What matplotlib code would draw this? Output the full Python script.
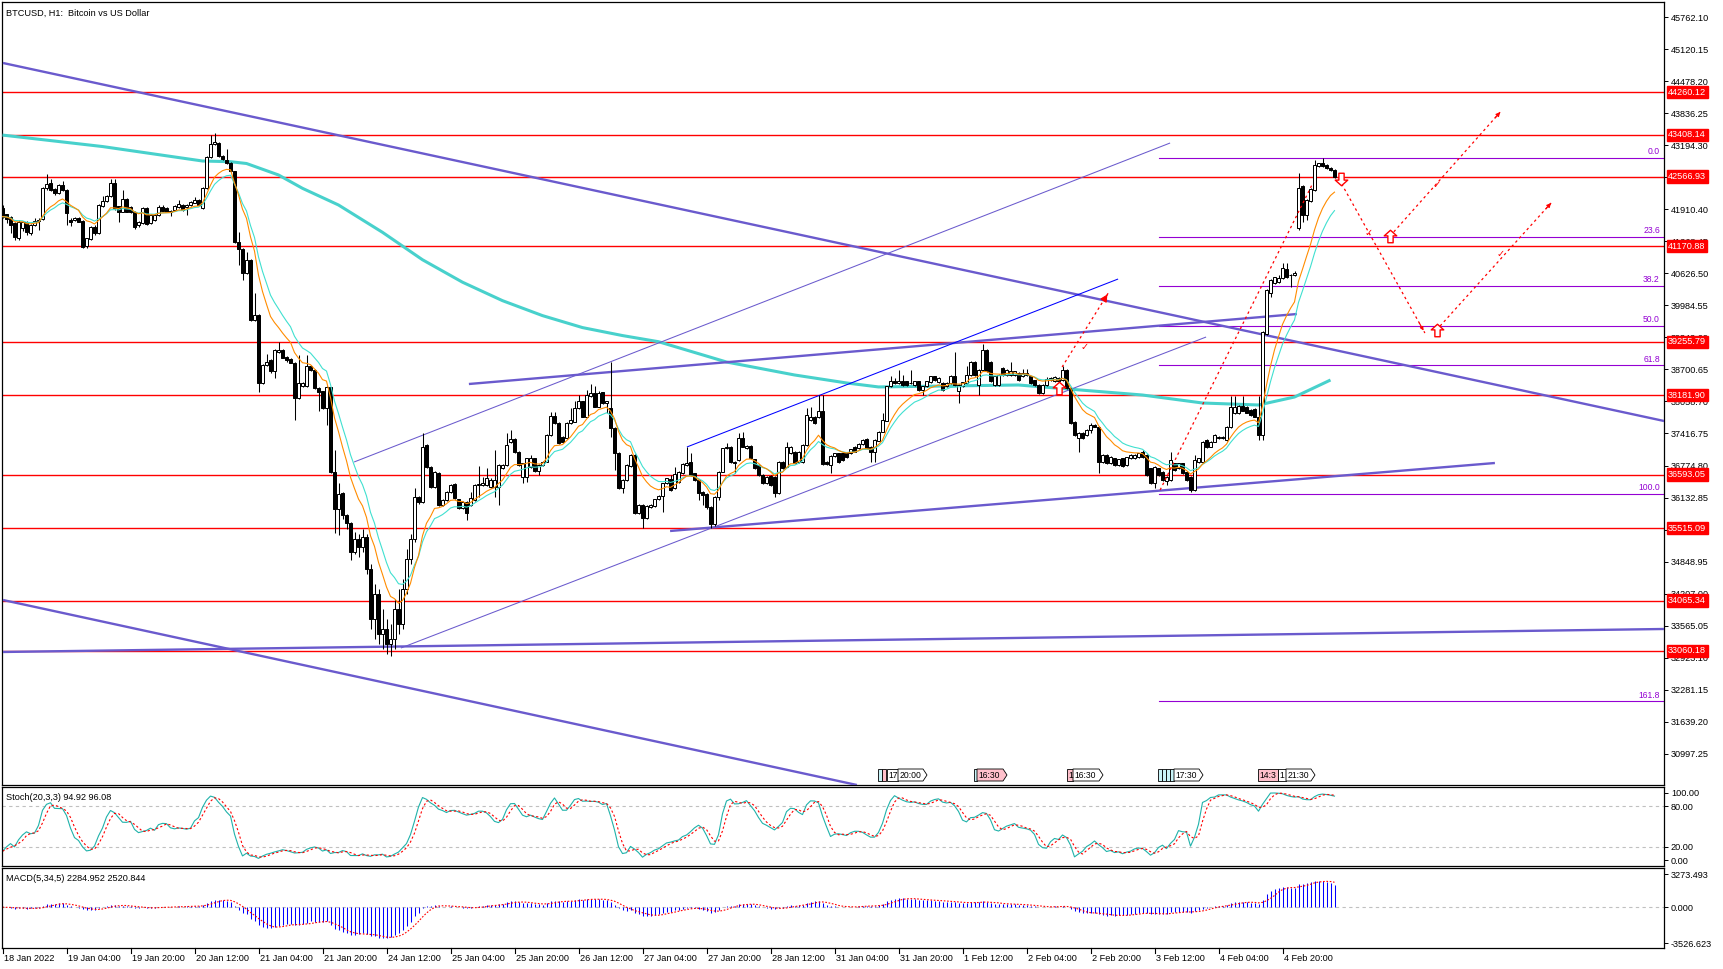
import matplotlib
matplotlib.use('Agg')
import matplotlib.pyplot as plt
import matplotlib.transforms as mtransforms
from matplotlib.patches import Polygon
from matplotlib.path import Path
import numpy as np
import pandas as pd

plt.rcParams['font.family'] = ['Liberation Sans', 'DejaVu Sans']

# ---------------- DATA ----------------
open_ = [41930,41810,41765,41630,41330,41530,41660,41430,41600,41680,
 41710,42330,42430,42320,42230,42390,42300,41700,41700,41740,
 41680,41180,41320,41560,41430,41970,42070,42170,42430,41970,
 41860,42120,41965,41860,41600,41630,41930,41630,41700,41800,
 41950,41930,41880,41900,41950,42000,41965,42000,42045,42100,
 41930,42330,42970,43230,43250,42980,42900,42850,42670,41260,
 41110,40630,40900,39690,39790,38420,38790,38890,38660,39060,
 39100,38960,38920,38840,38120,38360,38360,38770,38690,38320,
 38260,37920,38340,36650,35900,36220,35780,35630,35050,35300,
 35150,35350,34700,33700,34200,33400,33500,33200,33300,33900,
 33600,34300,34900,35300,36150,36050,37190,36750,36350,36630,
 35980,36080,36250,36400,36100,35920,36050,35980,36080,36380,
 36380,36380,36350,36350,36350,36720,36790,37250,37300,37050,
 36550,36550,36750,36920,36670,36790,36850,37390,37770,37620,
 37350,37320,37620,37650,37920,38060,37750,38160,38220,37950,
 38240,38020,37920,37520,37020,36320,36480,36770,36990,35820,
 35980,35720,35950,35960,36100,36160,36420,36500,36320,36450,
 36620,36790,36850,36620,36480,36250,36200,35950,35600,36150,
 36650,37120,37140,36850,36880,37320,37120,37170,36900,36790,
 36580,36420,36560,36550,36220,36850,36750,37020,37050,36850,
 36850,37190,37690,37750,37740,37870,36850,36790,36970,37020,
 37020,37020,37020,37150,37120,37210,37300,37150,37050,37270,
 37450,37670,38360,38460,38420,38460,38460,38420,38390,38460,
 38290,38360,38440,38560,38440,38420,38360,38420,38570,38260,
 38360,38420,38590,38860,38390,38690,39090,38860,38390,38390,
 38720,38590,38590,38590,38620,38560,38590,38560,38480,38390,
 38220,38390,38490,38460,38520,38490,38690,38320,37650,37320,
 37420,37390,37490,37590,37550,36850,36990,36830,36920,36790,
 36920,36790,36920,36920,36950,37050,36990,36720,36420,36720,
 36650,36470,36480,36820,36720,36820,36650,36550,36280,36850,
 36850,37290,37150,37250,37320,37320,37290,37540,37820,37820,
 37970,37950,37890,37900,37750,37390,39420,40230,40430,40460,
 40530,40710,40590,40590,41530,42370,41800,42070,42300,42780,
 42850,42800,42730,42700]
high = [42000,41820,41780,41650,41700,41680,41680,41610,41730,41740,
 42350,42620,42510,42330,42410,42470,42310,41740,41760,41760,
 41690,41340,41580,41600,42010,42170,42200,42510,42510,41980,
 42300,42130,41980,41880,41680,41950,41950,41810,41810,41990,
 41990,41950,41900,42000,42100,42010,42010,42080,42165,42110,
 42350,42990,43400,43435,43270,43000,43130,42860,42680,41460,
 41130,41060,40910,40230,39810,38800,39020,38910,39110,39260,
 39120,38970,38940,38850,38990,38440,38990,38790,38700,38340,
 38270,38360,38350,37090,36420,36240,35800,35650,35450,35400,
 35500,35400,34800,34400,34300,33900,33700,33600,34100,34300,
 34500,35100,35400,36320,36170,37420,37200,36770,36670,36650,
 36100,36270,36400,36420,36110,36070,36070,36250,36400,36770,
 36550,36720,36530,37090,36800,36800,37420,37490,37320,37070,
 36830,36930,36990,36930,36800,36870,37400,37850,37850,37640,
 37370,37640,37920,38060,38190,38070,38290,38410,38360,38260,
 38250,38070,38860,37540,37040,36500,36800,37000,37000,36000,
 36000,35980,36000,36110,36180,36430,36530,36590,36750,36670,
 36820,37150,37020,36630,36500,36260,36220,35970,36170,36670,
 37130,37220,37160,36870,37420,37450,37180,37180,36910,36800,
 36600,36570,36580,36570,36870,36870,37250,37170,37070,37070,
 37200,37920,37950,37770,38190,38190,36870,36980,37030,37030,
 37030,37030,37110,37170,37220,37300,37320,37170,37300,37470,
 37830,38370,38560,38520,38690,38590,38470,38690,38470,38470,
 38370,38470,38570,38570,38540,38440,38440,38580,39060,38400,
 38450,38760,38870,38870,38700,39220,39110,38870,38570,38600,
 38740,38700,38860,38670,38640,38700,38700,38570,38490,38400,
 38400,38540,38540,38560,38540,38760,38710,38340,37670,37440,
 37440,37500,37620,37600,37570,37000,37000,36970,36930,36910,
 36930,36950,37000,37000,37030,37090,37000,36730,36770,36730,
 36670,36570,37050,36830,36830,36830,36670,36570,36990,36930,
 37270,37300,37270,37400,37370,37370,37560,38160,38160,37990,
 38170,37970,37900,37920,38160,39480,40310,40510,40560,40590,
 40830,40830,40620,40680,42630,42400,42110,42330,42900,42850,
 42950,42820,42750,42720]
low = [41730,41630,41430,41300,41300,41480,41400,41400,41580,41500,
 41700,42300,42280,42200,42220,42270,41600,41580,41680,41650,
 41140,41130,41300,41400,41420,41950,42050,42150,41900,41660,
 41850,41850,41830,41520,41560,41610,41600,41620,41680,41780,
 41870,41850,41780,41880,41940,41880,41800,41980,42030,41980,
 41910,42310,42950,43210,42960,42910,42810,42650,41240,40800,
 40490,40610,39670,39670,38250,38400,38770,38630,38520,39040,
 38930,38860,38820,37690,38100,38340,38340,38660,38300,37860,
 37900,37590,36630,35420,35380,35700,35500,34880,35000,34950,
 35050,34600,33500,33300,33200,33100,33000,32950,33100,33400,
 33500,34200,34800,35250,36000,36030,36730,36330,36330,35960,
 35960,36060,36230,36100,35900,35900,35680,35970,36070,36150,
 36370,36370,36330,36150,35980,36700,36770,37230,37030,36770,
 36420,36450,36730,36650,36580,36770,36840,37370,37600,37200,
 37230,37300,37600,37640,37900,37740,37740,38140,37940,37940,
 38000,37820,37350,36690,36300,36220,36470,36750,35800,35800,
 35520,35700,35930,35950,36080,35840,36400,36270,36300,36430,
 36600,36770,36570,36470,36080,35980,35900,35520,35560,36080,
 36640,37100,36830,36620,36870,37140,37100,36900,36700,36570,
 36400,36400,36370,36150,36200,36700,36740,37000,36800,36830,
 36830,37170,37670,37600,37720,36790,36790,36620,36950,36830,
 36870,36920,37000,37040,37100,37190,37100,36850,36850,37260,
 37440,37660,38340,38400,38410,38370,38370,38400,38370,38270,
 38190,38340,38420,38470,38420,38270,38340,38400,38370,38020,
 38340,38400,38570,38570,38190,38670,38640,38440,38370,38370,
 38570,38570,38570,38570,38470,38540,38570,38400,38370,38200,
 38200,38370,38470,38440,38320,38470,38300,37600,37370,37050,
 37300,37370,37420,37540,36620,36830,36810,36810,36770,36770,
 36750,36770,36900,36900,36930,36930,36570,36400,36320,36570,
 36470,36380,36470,36670,36700,36600,36470,36250,36270,36830,
 36830,37130,37140,37240,37300,37300,37270,37520,37800,37800,
 37860,37820,37770,37740,37290,37290,39400,40160,40410,40440,
 40510,40530,40360,40580,41500,41660,41700,42050,42280,42760,
 42760,42720,42680,42540]
close = [41765,41720,41600,41360,41660,41660,41460,41600,41680,41700,
 42330,42410,42300,42230,42400,42290,41830,41660,41730,41660,
 41160,41330,41560,41430,42000,42080,42170,42430,41930,41860,
 42110,41860,41864,41550,41660,41930,41620,41800,41800,41965,
 41880,41860,41860,41980,42020,41900,42000,42065,42100,42000,
 42330,42970,43230,43270,42980,42930,42830,42670,41260,41110,
 40630,40900,39690,39790,38420,38790,38860,38660,39090,39100,
 38940,38890,38840,38120,38420,38420,38770,38680,38320,38240,
 37920,38340,36650,35900,36200,35780,35620,35050,35300,35150,
 35350,34700,33700,34200,33400,33500,33200,33300,33900,33600,
 34300,34900,35300,36150,36050,37150,36750,36350,36650,35980,
 36080,36250,36380,36120,35920,36050,35820,36120,36380,36400,
 36420,36520,36480,36480,36790,36790,37190,37300,37050,36790,
 36820,36920,36920,36670,36790,36850,37390,37770,37620,37220,
 37250,37620,37690,37920,38060,37750,38190,38220,37950,38220,
 38020,38060,37520,37020,36320,36480,36790,36990,35820,35980,
 35720,35960,35980,36100,36160,36420,36520,36280,36600,36650,
 36800,36830,36590,36480,36220,36180,35950,35600,36150,36650,
 37120,37140,36850,36820,37320,37150,37170,36920,36720,36580,
 36420,36550,36380,36220,36850,36720,37150,37150,36820,37050,
 37190,37790,37750,37620,37870,36810,36810,36970,37020,36850,
 36890,36940,37100,37050,37210,37290,37120,37050,37290,37450,
 37690,38360,38460,38420,38460,38390,38390,38430,38460,38290,
 38360,38460,38560,38490,38520,38290,38420,38570,38390,38390,
 38440,38590,38860,38590,38690,39090,38660,38460,38560,38590,
 38590,38690,38660,38660,38490,38620,38620,38420,38390,38220,
 38390,38500,38520,38540,38460,38690,38320,37620,37390,37420,
 37320,37490,37590,37550,36850,36990,36830,36950,36790,36900,
 36770,36940,36990,36990,37020,36950,36590,36420,36750,36590,
 36480,36550,36890,36690,36820,36620,36480,36280,36890,36920,
 37250,37150,37250,37390,37350,37350,37540,37950,37950,37970,
 37870,37830,37790,37750,37390,39460,40290,40490,40550,40530,
 40730,40550,40600,40630,42330,41800,42100,42310,42800,42830,
 42780,42730,42700,42560]

# long moving average (bar index, price)
ma_long_bar = [0, 25, 50, 57, 61, 69, 75, 84, 95, 105, 115, 125, 135, 145, 155, 164,
               181, 198, 211, 219, 254, 285, 300, 314, 323, 332]
ma_long_val = [43400, 43170, 42880, 42866, 42830, 42600, 42332, 41998, 41450, 40900,
               40450, 40080, 39780, 39540, 39380, 39257, 38850, 38590, 38430, 38350,
               38389, 38188, 38028, 37988, 38148, 38489]

levels = [44260.12, 43408.14, 42566.93, 41170.88, 39255.79, 38181.90,
          36593.05, 35515.09, 34065.34, 33060.18]

fib_high, fib_low = 42950, 36210
fib_levels = [0.0, 23.6, 38.2, 50.0, 61.8, 100.0, 161.8]

time_labels = ['18 Jan 2022', '19 Jan 04:00', '19 Jan 20:00', '20 Jan 12:00', '21 Jan 04:00',
               '21 Jan 20:00', '24 Jan 12:00', '25 Jan 04:00', '25 Jan 20:00', '26 Jan 12:00',
               '27 Jan 04:00', '27 Jan 20:00', '28 Jan 12:00', '31 Jan 04:00', '31 Jan 20:00',
               '1 Feb 12:00', '2 Feb 04:00', '2 Feb 20:00', '3 Feb 12:00', '4 Feb 04:00',
               '4 Feb 20:00']
price_ticks = [30997.25 + 641.95 * k for k in range(24)]

# trend lines: (bar0, price0, bar1, price1, color, width)
trend_lines = [
    (0.125, 44845, 415.4, 37667, '#6A5ACD', 1.7),
    (0.125, 34078, 213.6, 30369, '#6A5ACD', 1.7),
    (0.125, 33036, 415.4, 33497, '#6A5ACD', 1.7),
    (87.9, 36845, 291.9, 43241, '#6A5ACD', 0.75),
    (99.6, 33116, 300.9, 39351, '#6A5ACD', 0.75),
    (116.6, 38409, 323.6, 39812, '#6A5ACD', 1.7),
    (171.1, 37146, 278.9, 40514, '#0000FF', 0.75),
    (166.9, 35462, 373.1, 36825, '#6A5ACD', 1.7),
]
# red dashed projections (bar0, price0, bar1, price1, head size)
projections = [
    (334.1, 42519, 355.6, 39431, 5),
    (359.4, 39572, 387.6, 42078, 6),
    (346.9, 41376, 374.9, 43903, 6),
    (264.9, 38750, 276.6, 40254, 11),
    (289.4, 36283, 327.6, 42439, 0),
]
arrow_up = [(264.1, 38329), (346.9, 41376), (358.6, 39492)]
arrow_down = [(334.6, 42519)]
check_marks = [(270.6, 39151), (341.4, 41436), (358.6, 42399), (374.4, 41015)]

# ---------------- FIGURE ----------------
W, H, DPI = 1723, 969, 100
fig = plt.figure(figsize=(W / DPI, H / DPI), dpi=DPI)
fig.patch.set_facecolor('white')

def rect(x0, y0, x1, y1):
    return [x0 / W, 1 - y1 / H, (x1 - x0) / W, (y1 - y0) / H]

ax = fig.add_axes(rect(2, 2, 1664, 785))
axs = fig.add_axes(rect(2, 787, 1664, 866))
axm = fig.add_axes(rect(2, 868, 1664, 948))

XL = (-0.125, 415.375)
FS = 6.6
for a in (ax, axs, axm):
    a.set_xlim(*XL)
    a.set_facecolor('white')
    for s in a.spines.values():
        s.set_linewidth(0.9)
        s.set_color('black')
    a.tick_params(axis='x', bottom=False, labelbottom=False)
    a.yaxis.tick_right()
    a.tick_params(axis='y', direction='out', length=3, width=0.7, pad=2,
                  labelsize=FS, colors='black')

ax.set_ylim(30369, 46068)

n = len(close)
x = np.arange(n)
o = np.array(open_, float); h = np.array(high, float)
l = np.array(low, float); c = np.array(close, float)

# horizontal levels
for lv in levels:
    ax.axhline(lv, color='#FF0000', lw=1.0, zorder=2)
ax.axhline(c[-1], color='#C0C0C0', lw=0.8, zorder=1.5)

# long MA
ax.plot(ma_long_bar, ma_long_val, color='#48D1CC', lw=2.2, zorder=3, solid_capstyle='butt')

# trend lines
for b0, p0, b1, p1, col, lw in trend_lines:
    ax.plot([b0, b1], [p0, p1], color=col, lw=lw, zorder=3.2, solid_capstyle='butt')

# fibonacci
bt = mtransforms.blended_transform_factory(ax.transAxes, ax.transData)
for lv in fib_levels:
    pr = fib_high - lv / 100.0 * (fib_high - fib_low)
    ax.plot([289.1, 415.4], [pr, pr], color='#9400D3', lw=0.8, zorder=2.5)
    ax.text(0.9975, pr + 30, f'{lv:.1f}', transform=bt,
            ha='right', va='bottom', color='#9400D3', fontsize=6.2, zorder=4)

# candles
ax.vlines(x, l, h, color='black', lw=0.75, zorder=4)
body_bot = np.minimum(o, c)
body_h = np.maximum(np.abs(c - o), 12)
cols = np.where(c >= o, 'white', 'black')
ax.bar(x, body_h, bottom=body_bot, width=0.6, color=cols, edgecolor='black',
       linewidth=0.72, zorder=5)

# EMAs
cs = pd.Series(c)
ema_fast = cs.ewm(span=10, adjust=False).mean()
ema_slow = cs.ewm(span=14, adjust=False).mean()
ax.plot(x, ema_slow, color='#40E0D0', lw=0.8, zorder=6)
ax.plot(x, ema_fast, color='#FF8C00', lw=0.8, zorder=6)

# projections
for b0, p0, b1, p1, head in projections:
    ax.plot([b0, b1], [p0, p1], color='red', lw=0.9, ls=(0, (2, 2.5)), zorder=7)
    if head:
        ax.annotate('', xy=(b1, p1), xytext=(b1 - 0.08 * (b1 - b0), p1 - 0.08 * (p1 - p0)),
                    arrowprops=dict(arrowstyle='-|>', color='red', lw=0.8, mutation_scale=head),
                    zorder=7)

# hollow block arrows as markers
up_path = Path([(0, 1), (1, 0.1), (0.42, 0.1), (0.42, -1), (-0.42, -1), (-0.42, 0.1),
                (-1, 0.1), (0, 1)], closed=True)
down_path = Path([(0, -1), (1, -0.1), (0.42, -0.1), (0.42, 1), (-0.42, 1), (-0.42, -0.1),
                  (-1, -0.1), (0, -1)], closed=True)
for b, p in arrow_up:
    ax.plot([b], [p], marker=up_path, ms=9, mfc='white', mec='red', mew=1.0, ls='none', zorder=8)
for b, p in arrow_down:
    ax.plot([b], [p], marker=down_path, ms=9, mfc='white', mec='red', mew=1.0, ls='none', zorder=8)
for b, p in check_marks:
    ax.text(b, p, '✓', color='red', fontsize=7, ha='center', va='center', zorder=8,
            family=['DejaVu Sans'])

# price axis
ax.set_yticks(price_ticks)
ax.set_yticklabels([f'{t:.2f}' for t in price_ticks])
for lv in levels:
    ax.text(1.0025, lv, f'{lv:.2f}', transform=bt, ha='left', va='center', color='white',
            fontsize=FS, zorder=10,
            bbox=dict(boxstyle='square,pad=0.18', fc='#FF0000', ec='#FF0000'))

ax.text(0.0025, 0.9915, 'BTCUSD, H1:  Bitcoin vs US Dollar', transform=ax.transAxes,
        ha='left', va='top', fontsize=FS, color='black', zorder=10)

# ---------------- STOCHASTIC ----------------
hs, ls_ = pd.Series(h), pd.Series(l)
hh = hs.rolling(20, min_periods=1).max()
ll = ls_.rolling(20, min_periods=1).min()
num = (cs - ll).rolling(3, min_periods=1).sum()
den = (hh - ll).rolling(3, min_periods=1).sum()
k = 100 * num / den
d = k.rolling(3, min_periods=1).mean()
axs.set_ylim(-8.9, 108.5)
for lv in (80, 20):
    axs.axhline(lv, color='#C0C0C0', lw=0.8, ls=(0, (3, 3)))
axs.plot(x, k, color='#20B2AA', lw=0.8)
axs.plot(x, d, color='red', lw=0.8, ls=(0, (2, 2)))
axs.set_yticks([100, 80, 20, 0])
axs.set_yticklabels(['100.00', '80.00', '20.00', '0.00'])
axs.text(0.0025, 0.93, 'Stoch(20,3,3) 94.92 96.08', transform=axs.transAxes,
         ha='left', va='top', fontsize=FS)

# ---------------- MACD ----------------
macd = cs.ewm(span=5, adjust=False).mean() - cs.ewm(span=34, adjust=False).mean()
sig = macd.rolling(5, min_periods=1).mean()
axm.set_ylim(-4019, 3865)
axm.axhline(0, color='#C0C0C0', lw=0.8, ls=(0, (3, 3)))
axm.vlines(x, 0, macd, color='#0000FF', lw=0.75)
axm.plot(x, sig, color='red', lw=0.8, ls=(0, (1.5, 1.5)))
axm.set_yticks([3273.493, 0, -3526.623])
axm.set_yticklabels(['3273.493', '0.000', '-3526.623'])
axm.text(0.0025, 0.93, 'MACD(5,34,5) 2284.952 2520.844', transform=axm.transAxes,
         ha='left', va='top', fontsize=FS)

# time axis
tb = mtransforms.blended_transform_factory(axm.transData, axm.transAxes)
for i, lab in enumerate(time_labels):
    bx = i * 16
    axm.plot([bx, bx], [0, -0.06], transform=tb, color='black', lw=0.8, clip_on=False)
    axm.text(bx + 0.3, -0.13, lab, transform=tb, ha='left', va='center', fontsize=FS,
             clip_on=False)

# event markers at bottom of main chart (pixel boxes)
events = [
    (878, 882, '#C8F4F8', '', False), (882, 886, '#FFC0CB', '', False),
    (887, 898, 'white', '17', False), (898, 927, 'white', '20:00', True),
    (974, 977, '#C8F4F8', '', False), (977, 1007, '#FFC0CB', '16:30', True),
    (1067, 1073, '#FFC0CB', '1', False), (1073, 1103, 'white', '16:30', True),
    (1158, 1162, '#C8F4F8', '', False), (1162, 1166, '#C8F4F8', '', False),
    (1166, 1170, '#C8F4F8', '', False), (1170, 1174, '#C8F4F8', '', False),
    (1174, 1203, 'white', '17:30', True),
    (1258, 1278, '#FFC0CB', '14:3', False), (1278, 1286, 'white', '1', False),
    (1286, 1315, 'white', '21:30', True),
]
ey0, ey1 = 769, 781
for x0, x1, fc, txt, tip in events:
    if tip:
        pts = [(x0, ey0), (x1 - 4, ey0), (x1, (ey0 + ey1) / 2), (x1 - 4, ey1), (x0, ey1)]
    else:
        pts = [(x0, ey0), (x1, ey0), (x1, ey1), (x0, ey1)]
    pts = [(px / W, 1 - py / H) for px, py in pts]
    fig.add_artist(Polygon(pts, closed=True, fc=fc, ec='black', lw=0.6,
                           transform=fig.transFigure, zorder=20))
    if txt:
        fig.text((x0 + 1.5) / W, 1 - ((ey0 + ey1) / 2) / H, txt, ha='left', va='center',
                 fontsize=6.2, zorder=21)

fig.savefig('out.png', dpi=DPI, facecolor='white')
